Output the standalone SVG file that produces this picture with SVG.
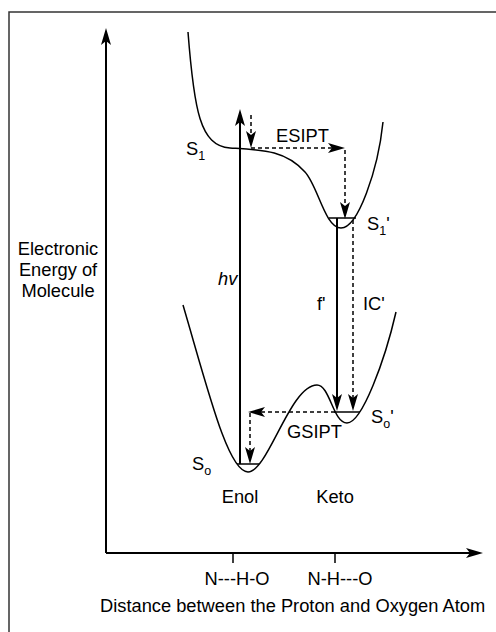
<svg xmlns="http://www.w3.org/2000/svg" width="496" height="632" viewBox="0 0 496 632">
  <style>
    text { font-family: "Liberation Sans", Arial, sans-serif; font-size: 18.3px; fill: #000; }
    .sub { font-size: 12.5px; }
    .axis { stroke: #000; stroke-width: 2; fill: none; }
    .solid { stroke: #000; stroke-width: 2; fill: none; }
    .dash { stroke: #000; stroke-width: 1.5; stroke-dasharray: 4 3; fill: none; }
    .curve { stroke: #000; stroke-width: 1.5; fill: none; }
    .level { stroke: #000; stroke-width: 1.5; fill: none; }
    .frame { stroke: #333; stroke-width: 1.5; fill: none; }
  </style>
  <defs>
    <marker id="arr" markerUnits="userSpaceOnUse" markerWidth="20" markerHeight="12" refX="4" refY="6" orient="auto" overflow="visible">
      <path d="M0,1 L17,6 L0,11 L4,6 Z" fill="#000"/>
    </marker>
  </defs>

  <path class="frame" d="M9,640 L9,12 L500,12"/>

  <g id="axes">
    <path class="axis" d="M106,553 L106,41" marker-end="url(#arr)"/>
    <path class="axis" d="M106,553 L470,553" marker-end="url(#arr)"/>
    <path class="level" d="M233,553 L233,563 M335,553 L335,563"/>
  </g>

  <g id="S1-curve">
    <path class="curve" d="M188,32 C194,110 200,146 230,148 C262,150 285,150 305,172 C318,186 325,228 341,228 C358,228 378,170 383,122"/>
    <path class="level" d="M329,218 L356,218"/>
  </g>

  <g id="S0-curve">
    <path class="curve" d="M183,305 C208,390 228,472 248,472 C268,472 290,385 317,385 C330,385 333,423 347,423 C362,423 385,360 396,312"/>
    <path class="level" d="M237,464 L259,464"/>
    <path class="level" d="M334,412 L360,412"/>
  </g>

  <g id="connectors">
    <path class="solid" d="M240,464 L240,122" marker-end="url(#arr)"/>
    <path class="dash" d="M251,115 L251,135" marker-end="url(#arr)"/>
    <path class="dash" d="M251,148 L332,148" marker-end="url(#arr)"/>
    <path class="dash" d="M345,150 L345,206" marker-end="url(#arr)"/>
    <path class="solid" d="M337,218 L337,398" marker-end="url(#arr)"/>
    <path class="dash" d="M353,220 L353,398" marker-end="url(#arr)"/>
    <path class="dash" d="M335,412 L261,412" marker-end="url(#arr)"/>
    <path class="dash" d="M250,413 L250,451" marker-end="url(#arr)"/>
  </g>

  <g id="labels">
    <text x="186" y="155">S<tspan class="sub" dy="5">1</tspan></text>
    <text x="367" y="230">S<tspan class="sub" dy="5">1</tspan><tspan dy="-5">'</tspan></text>
    <text x="371" y="423">S<tspan class="sub" dy="5">o</tspan><tspan dy="-5">'</tspan></text>
    <text x="192" y="470">S<tspan class="sub" dy="5">o</tspan></text>
    <text x="276" y="142">ESIPT</text>
    <text x="218" y="285" font-style="italic">hv</text>
    <text x="317" y="310">f'</text>
    <text x="363" y="310">IC'</text>
    <text x="287" y="438">GSIPT</text>
    <text x="240" y="503" text-anchor="middle">Enol</text>
    <text x="335" y="503" text-anchor="middle">Keto</text>
    <text x="237" y="585" text-anchor="middle">N---H-O</text>
    <text x="340" y="585" text-anchor="middle">N-H---O</text>
    <text x="100" y="612">Distance between the Proton and Oxygen Atom</text>
    <text text-anchor="middle" x="58" y="255">Electronic</text>
    <text text-anchor="middle" x="58" y="276">Energy of</text>
    <text text-anchor="middle" x="58" y="297">Molecule</text>
  </g>
</svg>
